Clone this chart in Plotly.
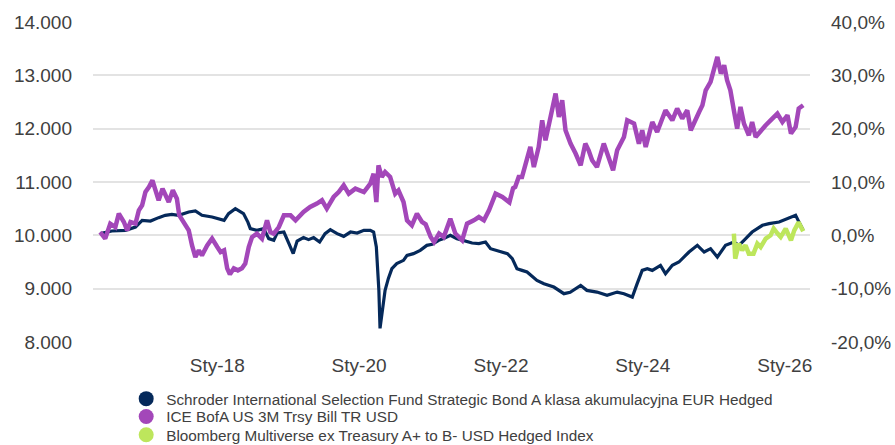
import plotly.graph_objects as go

# ---------------- data ----------------
fund_dates = ["2016-05-08","2016-07-07","2016-09-15","2016-11-06","2016-12-10","2017-01-22","2017-03-05","2017-04-08",
"2017-05-12","2017-06-16","2017-08-07","2017-09-10","2017-10-14","2017-12-05","2018-02-05","2018-02-28","2018-04-04",
"2018-05-16","2018-06-08","2018-06-20","2018-07-24","2018-08-28","2018-09-23","2018-10-19","2018-11-05","2018-12-10",
"2019-01-05","2019-01-27","2019-02-16","2019-03-21","2019-04-16","2019-05-12","2019-06-12","2019-07-10","2019-08-06",
"2019-09-10","2019-10-14","2019-11-18","2019-12-22","2020-01-26","2020-02-28","2020-03-16","2020-03-30","2020-04-12",
"2020-04-18","2020-04-26","2020-05-02","2020-05-14","2020-05-31","2020-06-18","2020-07-13","2020-08-17","2020-09-04",
"2020-10-07","2020-11-11","2020-12-15","2021-01-12","2021-02-14","2021-03-12","2021-04-15","2021-05-19","2021-06-23",
"2021-08-05","2021-09-09","2021-10-13","2021-11-08","2021-12-21","2022-02-03","2022-02-28","2022-03-24","2022-04-19",
"2022-05-15","2022-07-05","2022-08-10","2022-09-30","2022-11-21","2022-12-23","2023-01-29","2023-02-15","2023-03-19",
"2023-05-10","2023-07-01","2023-08-22","2023-09-26","2023-11-08","2023-12-03","2023-12-29","2024-01-24","2024-02-19",
"2024-04-01","2024-04-27","2024-06-01","2024-07-05","2024-08-26","2024-10-08","2024-11-12","2024-12-15","2025-01-19",
"2025-03-02","2025-04-14","2025-05-10","2025-06-05","2025-07-17","2025-09-08","2025-10-12","2025-12-03","2026-01-15",
"2026-02-26","2026-03-11","2026-04-06"]
fund_values = [10032,10081,10094,10156,10281,10268,10332,10375,
10394,10375,10437,10456,10375,10343,10281,10407,10501,
10407,10244,10126,10094,10126,9938,9906,10043,10062,
9844,9657,9893,9957,9919,9957,9874,10032,10107,
10032,9981,10062,10043,10094,10094,10062,9781,8968,
8255,8499,8655,8968,9193,9375,9469,9531,9625,
9657,9719,9812,9831,9906,9938,10000,9938,9906,
9856,9844,9874,9750,9705,9657,9563,9375,9343,
9312,9156,9094,9030,8906,8931,9030,9062,8968,
8936,8874,8936,8906,8843,9094,9343,9375,9343,
9437,9281,9437,9499,9687,9812,9687,9750,9593,
9812,9874,9812,9906,10062,10188,10219,10250,10313,
10375,10281,10094]

tbill_dates = ["2016-05-08","2016-06-03","2016-06-29","2016-07-25","2016-08-12","2016-09-07","2016-09-24","2016-10-11",
"2016-11-06","2016-11-23","2016-12-10","2016-12-27","2017-01-14","2017-02-01","2017-02-17","2017-03-05","2017-03-25",
"2017-04-08","2017-04-26","2017-05-17","2017-06-07","2017-06-19","2017-07-11","2017-08-07","2017-08-24","2017-09-10",
"2017-09-28","2017-10-14","2017-11-10","2017-12-05","2018-01-01","2018-01-18","2018-02-05","2018-02-21","2018-03-07",
"2018-03-27","2018-04-17","2018-05-08","2018-05-25","2018-06-12","2018-06-29","2018-07-24","2018-08-19","2018-09-14",
"2018-10-01","2018-10-19","2018-11-14","2018-12-10","2019-01-13","2019-02-08","2019-03-21","2019-04-24","2019-05-29",
"2019-06-24","2019-07-19","2019-08-23","2019-09-18","2019-10-14","2019-11-09","2019-12-13","2020-01-26","2020-02-28",
"2020-03-16","2020-03-30","2020-04-10","2020-04-27","2020-05-14","2020-06-09","2020-07-05","2020-07-22","2020-08-17",
"2020-09-04","2020-09-29","2020-10-25","2020-11-20","2020-12-09","2021-01-04","2021-01-21","2021-02-16","2021-03-12",
"2021-04-15","2021-05-11","2021-06-15","2021-07-10","2021-08-14","2021-09-09","2021-10-05","2021-10-31","2021-12-04",
"2022-01-08","2022-02-13","2022-03-04","2022-03-15","2022-04-02","2022-04-19","2022-05-05","2022-05-15","2022-06-01",
"2022-06-19","2022-07-14","2022-08-01","2022-08-18","2022-09-13","2022-10-09","2022-10-26","2022-11-12","2022-11-29",
"2022-12-25","2023-01-20","2023-02-15","2023-03-11","2023-03-28","2023-04-15","2023-05-10","2023-06-14","2023-07-10",
"2023-08-01","2023-08-22","2023-09-26","2023-10-13","2023-11-17","2023-12-12","2023-12-29","2024-01-16","2024-02-19",
"2024-03-15","2024-04-10","2024-04-27","2024-06-01","2024-06-26","2024-07-22","2024-08-17","2024-09-04","2024-09-29",
"2024-10-17","2024-11-03","2024-11-20","2024-12-15","2025-01-03","2025-01-19","2025-02-06","2025-02-23","2025-03-10",
"2025-03-27","2025-04-14","2025-05-01","2025-05-18","2025-06-05","2025-06-30","2025-07-17","2025-08-04","2025-08-30",
"2025-09-25","2025-10-29","2025-11-24","2025-12-20","2026-01-15","2026-02-02","2026-02-26","2026-03-14","2026-04-06"]
tbill_pct = [0.62,-0.62,2.19,1.56,4.07,2.50,0.94,2.50,
2.19,4.69,5.63,8.12,9.06,10.32,8.44,6.57,8.76,
7.82,6.25,8.44,6.88,3.75,2.50,0.94,-1.88,-4.07,
-2.81,-3.75,-1.88,-0.62,-2.19,-3.13,-2.81,-6.19,-7.32,
-6.19,-6.57,-6.19,-5.31,-2.19,-0.32,0.32,-0.62,2.81,
0.62,0.32,1.56,3.75,3.75,2.81,4.37,5.31,5.95,
6.57,5.01,7.19,8.12,9.38,7.82,8.76,8.12,9.70,
11.57,6.25,13.13,10.94,11.88,10.94,7.82,8.44,6.25,
2.81,1.88,4.07,2.50,2.06,-0.32,-1.26,0.32,-0.32,
3.13,0.32,-0.94,2.19,2.81,3.43,2.81,4.69,7.82,
7.19,6.19,8.82,9.06,10.94,10.94,12.81,14.45,16.57,
12.81,16.57,21.57,17.82,22.19,26.58,22.19,25.33,19.70,
17.20,15.33,13.13,17.20,15.95,14.07,12.81,17.20,14.69,
12.19,15.95,18.44,21.57,20.95,17.20,19.70,16.57,21.26,
19.38,21.57,23.45,21.57,23.77,21.89,23.45,19.70,21.89,
23.13,24.39,27.20,28.76,30.95,33.45,30.33,31.89,29.08,
27.20,23.45,20.02,24.07,20.95,18.76,21.26,18.44,19.70,
20.64,21.89,22.83,21.26,22.51,19.08,20.32,23.77,24.39]

bbg_dates = ["2025-04-14","2025-04-21","2025-05-10","2025-05-27","2025-06-13","2025-06-30","2025-07-24","2025-08-13",
"2025-08-30","2025-09-25","2025-10-20","2025-11-05","2025-11-24","2025-12-11","2026-01-06","2026-02-02","2026-02-19",
"2026-03-13","2026-04-06"]
bbg_pct = [0.32,-4.37,-1.56,-2.81,-1.88,-3.43,-3.43,-1.56,
-2.19,-0.62,0.00,1.26,0.38,-0.32,1.26,-0.94,0.94,
2.44,0.75]

series_names = [
    "Schroder International Selection Fund Strategic Bond A klasa akumulacyjna EUR Hedged",
    "ICE BofA US 3M Trsy Bill TR USD",
    "Bloomberg Multiverse ex Treasury A+ to B- USD Hedged Index",
]
series_colors = ["#05295a", "#a347b9", "#bde65c"]

x_tickvals = ["2018-01-01", "2020-01-01", "2022-01-01", "2024-01-01", "2026-01-01"]
x_ticktext = ["Sty-18", "Sty-20", "Sty-22", "Sty-24", "Sty-26"]
y_tickvals = [8000, 9000, 10000, 11000, 12000, 13000, 14000]
y_ticktext = ["8.000", "9.000", "10.000", "11.000", "12.000", "13.000", "14.000"]
y2_tickvals = [-20, -10, 0, 10, 20, 30, 40]
y2_ticktext = ["-20,0%", "-10,0%", "0,0%", "10,0%", "20,0%", "30,0%", "40,0%"]

FONT = "Arial, 'Liberation Sans', sans-serif"
TXT = "#404040"

fig = go.Figure()
fig.add_trace(go.Scatter(x=tbill_dates, y=tbill_pct, yaxis="y2", mode="lines",
                         line=dict(color=series_colors[1], width=4.5), showlegend=False, hoverinfo="skip"))
fig.add_trace(go.Scatter(x=bbg_dates, y=bbg_pct, yaxis="y2", mode="lines",
                         line=dict(color=series_colors[2], width=4.5), showlegend=False, hoverinfo="skip"))
fig.add_trace(go.Scatter(x=fund_dates, y=fund_values, mode="lines",
                         line=dict(color=series_colors[0], width=3.2), showlegend=False, hoverinfo="skip"))

legend_ids = ["legend", "legend2", "legend3"]
legend_rows_y = [0.104, 0.064, 0.023]   # container fractions (row centres)
for name, col, lid in zip(series_names, series_colors, legend_ids):
    fig.add_trace(go.Scatter(x=[None], y=[None], mode="markers", name=name, legend=lid,
                             marker=dict(color=col, size=15, symbol="circle")))

legend_common = dict(xref="container", yref="container", x=0.141, xanchor="left", yanchor="middle",
                     font=dict(family=FONT, size=15.3, color=TXT), bgcolor="rgba(0,0,0,0)",
                     borderwidth=0, itemwidth=30)

fig.update_layout(
    width=895, height=445,
    margin=dict(l=93, r=85, t=22, b=103, autoexpand=False),
    paper_bgcolor="white", plot_bgcolor="white",
    font=dict(family=FONT, size=19, color=TXT),
    showlegend=True,
    legend=dict(y=legend_rows_y[0], **legend_common),
    legend2=dict(y=legend_rows_y[1], **legend_common),
    legend3=dict(y=legend_rows_y[2], **legend_common),
    xaxis=dict(type="date", range=["2016-04-01", "2026-05-11"], automargin=False,
               tickvals=x_tickvals, ticktext=x_ticktext, showgrid=False,
               zeroline=False, showline=False, ticks="", ticklabelstandoff=10),
    yaxis=dict(range=[8000, 14000], tickvals=y_tickvals, ticktext=y_ticktext, automargin=False,
               showgrid=True, gridcolor="#e3e3e3", gridwidth=2, zeroline=False,
               showline=False, ticks="", ticklabelstandoff=20),
    yaxis2=dict(range=[-20, 40], overlaying="y", side="right", tickvals=y2_tickvals, automargin=False,
                ticktext=y2_ticktext, showgrid=False, zeroline=False, showline=False,
                ticks="", ticklabelstandoff=20),
)

fig.write_html("out.html", config={"displayModeBar": False},
               post_script="document.body.style.margin='0px';")
